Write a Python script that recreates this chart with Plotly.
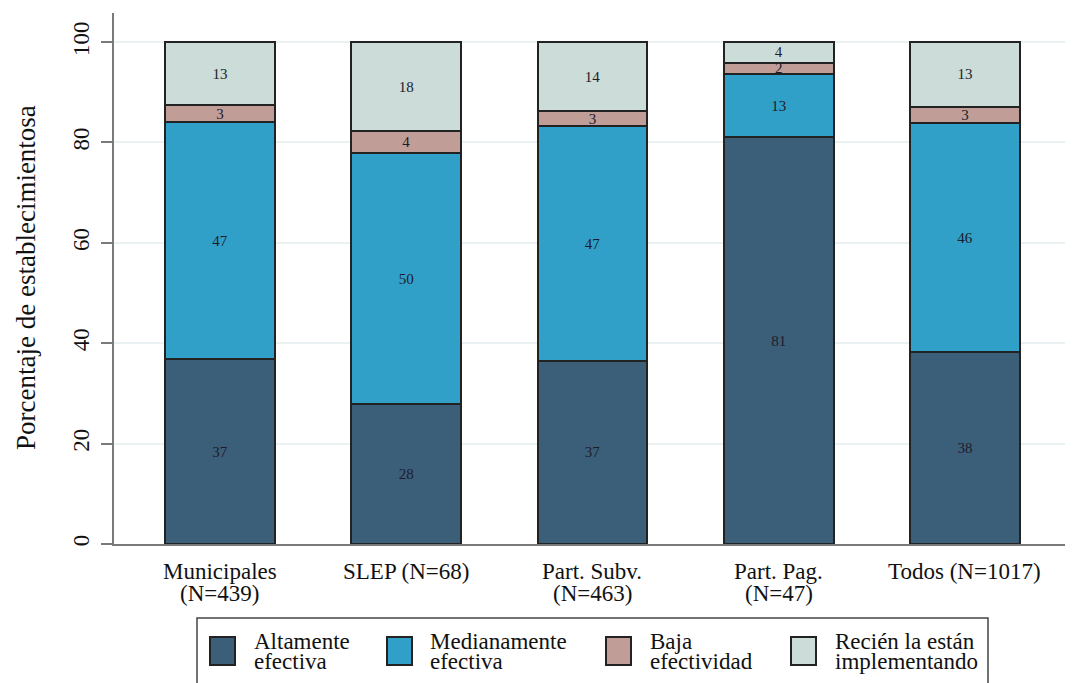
import plotly.graph_objects as go

categories = ["Municipales<br>(N=439)", "SLEP (N=68)", "Part. Subv.<br>(N=463)", "Part. Pag.<br>(N=47)", "Todos (N=1017)"]
altamente = [36.8, 27.9, 36.5, 81.0, 38.2]
medianamente = [47.3, 50.0, 46.7, 12.6, 45.6]
baja = [3.3, 4.4, 3.0, 2.3, 3.3]
recien = [12.6, 17.7, 13.8, 4.1, 12.9]
series_names = ["Altamente<br>efectiva", "Medianamente<br>efectiva", "Baja<br>efectividad", "Recién la están<br>implementando"]
colors = ["#3c5f79", "#31a0c9", "#c09e97", "#ccdcd8"]
yticks = [0, 20, 40, 60, 80, 100]
y_title = "Porcentaje de establecimientosa"

FONT = "Liberation Serif"
TXT = "#111111"
OUT = "#222222"

# figure sits 8px inside the page (body margin); plot area page px: x 114..1070, y 13..544
W, H = 1065, 675
L, R, T, B = 106, 3, 5, 139
PW, PH = W - L - R, H - T - B


def px_x(X):
    return (X - 114) / PW


def px_y(Y):
    return (544 - Y) / PH


fig = go.Figure()
for name, vals, col in zip(series_names, [altamente, medianamente, baja, recien], colors):
    fig.add_trace(go.Bar(
        x=categories, y=vals, name=name.replace("<br>", " "),
        marker=dict(color=col, line=dict(color=OUT, width=2)),
        texttemplate="%{y:.0f}", textposition="inside", insidetextanchor="middle",
        constraintext="none", cliponaxis=False,
        textfont=dict(family=FONT, size=15, color="#1c1c2c"), width=0.59,
        showlegend=False, textangle=0,
    ))

annotations = []
shapes = []
# category labels (two tight lines)
for c in categories:
    parts = c.split("<br>")
    for i, p in enumerate(parts):
        annotations.append(dict(
            x=c, xref="x", y=px_y(571 + 22 * i), yref="paper", text=p, showarrow=False,
            xanchor="center", yanchor="middle", font=dict(family=FONT, size=23, color=TXT),
        ))

# y-axis title
annotations.append(dict(
    x=px_x(26), xref="paper", y=px_y(278), yref="paper", text=y_title, textangle=-90,
    showarrow=False, xanchor="center", yanchor="middle", font=dict(family=FONT, size=27, color=TXT),
))

# legend (Stata-style box)
shapes.append(dict(type="rect", xref="paper", yref="paper", x0=px_x(197), x1=px_x(988),
                   y0=px_y(700), y1=px_y(618), line=dict(color="#444444", width=1.5), fillcolor="white"))
sym_x = [210, 387, 606, 791]
txt_x = [252, 428, 648, 833]
for name, col, sx, tx in zip(series_names, colors, sym_x, txt_x):
    shapes.append(dict(type="rect", xref="paper", yref="paper", x0=px_x(sx), x1=px_x(sx + 25),
                       y0=px_y(665), y1=px_y(637), line=dict(color=OUT, width=2), fillcolor=col))
    for i, p in enumerate(name.split("<br>")):
        annotations.append(dict(
            x=px_x(tx), xref="paper", y=px_y(641 + 20 * i), yref="paper", text=p, showarrow=False,
            xanchor="left", yanchor="middle", font=dict(family=FONT, size=23, color=TXT),
        ))

fig.update_layout(
    barmode="stack",
    width=W, height=H,
    margin=dict(l=L, r=R, t=T, b=B, autoexpand=False),
    paper_bgcolor="white", plot_bgcolor="white",
    font=dict(family=FONT, size=23, color=TXT),
    showlegend=False,
    annotations=annotations,
    shapes=shapes,
    xaxis=dict(
        range=[-0.569, 4.564], showline=True, linecolor="#7a7a7a", linewidth=2,
        ticks="", showticklabels=False, showgrid=False,
    ),
    yaxis=dict(
        range=[0, 105.8], tickvals=yticks, showline=True, linecolor="#7a7a7a", linewidth=2,
        ticks="outside", ticklen=11, tickwidth=2, tickcolor="#7a7a7a", tickangle=-90,
        gridcolor="#e9f1f3", gridwidth=1.5, zeroline=False, ticklabelstandoff=3,
        tickfont=dict(family=FONT, size=23, color=TXT),
    ),
)
fig.write_html("out.html")
